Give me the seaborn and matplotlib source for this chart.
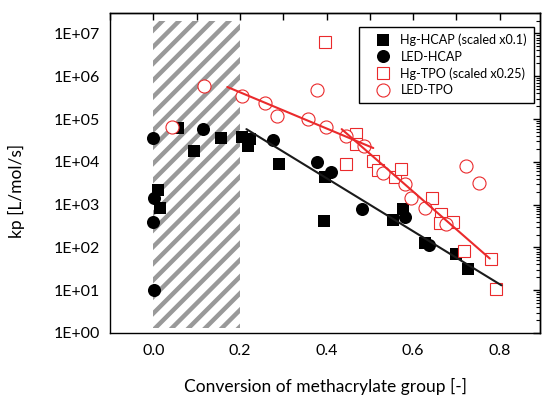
import numpy as np
import pandas as pd
import seaborn as sns
import matplotlib
matplotlib.use("Agg")
import matplotlib.pyplot as plt
from matplotlib.ticker import FuncFormatter, LogLocator, MultipleLocator, NullFormatter

# ---------------- data ----------------
hg_hcap_x = [0.058, 0.094, 0.156, 0.204, 0.223, 0.218, 0.010, 0.015, 0.290, 0.394,
             0.396, 0.576, 0.554, 0.627, 0.699, 0.727]
hg_hcap_y = [6.2e4, 1.8e4, 3.6e4, 3.9e4, 3.4e4, 2.4e4, 2.2e3, 8.2e2, 8.9e3, 4.1e2,
             4.5e3, 7.8e2, 4.35e2, 1.24e2, 7.0e1, 3.2e1]

led_hcap_x = [0.000, 0.115, 0.002, 0.000, 0.002, 0.276, 0.377, 0.410, 0.483, 0.581, 0.637]
led_hcap_y = [3.6e4, 5.8e4, 1.45e3, 3.85e2, 1.0e1, 3.2e4, 1.0e4, 5.7e3, 7.8e2, 5.05e2, 1.13e2]

hg_tpo_x = [0.396, 0.469, 0.468, 0.446, 0.508, 0.519, 0.558, 0.573, 0.643, 0.664,
            0.663, 0.692, 0.717, 0.779, 0.791]
hg_tpo_y = [6.3e6, 4.4e4, 2.6e4, 8.9e3, 1.07e4, 6.6e3, 4.5e3, 6.8e3, 1.4e3, 6.0e2,
            3.8e2, 4.0e2, 8.2e1, 5.3e1, 1.04e1]

led_tpo_x = [0.044, 0.118, 0.205, 0.258, 0.285, 0.377, 0.358, 0.398, 0.445, 0.487,
             0.531, 0.582, 0.594, 0.627, 0.675, 0.722, 0.752]
led_tpo_y = [6.5e4, 5.8e5, 3.4e5, 2.4e5, 1.2e5, 4.8e5, 1.0e5, 6.5e4, 4.1e4, 2.3e4,
             5.4e3, 3.0e3, 1.4e3, 8.2e2, 3.5e2, 8.0e3, 3.2e3]

# fitted trend lines (end points)
fit_hcap_x = [0.215, 0.804]
fit_hcap_y = [5.8e4, 1.3e1]
fit_tpo1_x = [0.171, 0.508]
fit_tpo1_y = [5.6e5, 2.1e4]
fit_tpo2_x = [0.435, 0.777]
fit_tpo2_y = [5.8e4, 5.5e1]

labels = ["Hg-HCAP (scaled x0.1)", "LED-HCAP", "Hg-TPO (scaled x0.25)", "LED-TPO"]
x_ticks = [0.0, 0.2, 0.4, 0.6, 0.8]
y_ticks = [1e0, 1e1, 1e2, 1e3, 1e4, 1e5, 1e6, 1e7]

# ---------------- style ----------------
sns.set_theme(style="white")
plt.rcParams["font.family"] = ["Lato", "DejaVu Sans"]
plt.rcParams["hatch.linewidth"] = 3.2
plt.rcParams["axes.edgecolor"] = "black"
plt.rcParams["axes.linewidth"] = 1.0
plt.rcParams["text.color"] = "black"
plt.rcParams["axes.labelcolor"] = "black"
plt.rcParams["xtick.color"] = "black"
plt.rcParams["ytick.color"] = "black"

RED = "#ea2a2c"

fig = plt.figure(figsize=(5.43, 3.96), dpi=100)
ax = fig.add_axes([110 / 543, 63 / 396, 430 / 543, 320 / 396])

# hatched region
ax.axvspan(0.0, 0.2, ymin=0.015, ymax=0.976, facecolor="white",
           edgecolor="#999999", hatch="//", linewidth=0, zorder=0)

def pts(x, y):
    return pd.DataFrame({"x": x, "y": y})

common = dict(estimator=None, sort=False, linestyle="", ax=ax)
sns.lineplot(data=pts(hg_hcap_x, hg_hcap_y), x="x", y="y", marker="s", markersize=8.6,
             color="black", markerfacecolor="black", markeredgecolor="black",
             markeredgewidth=0, label=labels[0], zorder=3, **common)
sns.lineplot(data=pts(led_hcap_x, led_hcap_y), x="x", y="y", marker="o", markersize=9.4,
             color="black", markerfacecolor="black", markeredgecolor="black",
             markeredgewidth=0, label=labels[1], zorder=3, **common)
sns.lineplot(data=pts(hg_tpo_x, hg_tpo_y), x="x", y="y", marker="s", markersize=8.2,
             color=RED, markerfacecolor="white", markeredgecolor=RED,
             markeredgewidth=0.8, label=labels[2], zorder=4, **common)
sns.lineplot(data=pts(led_tpo_x, led_tpo_y), x="x", y="y", marker="o", markersize=9.4,
             color=RED, markerfacecolor="white", markeredgecolor=RED,
             markeredgewidth=0.8, label=labels[3], zorder=4, **common)

for fx, fy, c in [(fit_hcap_x, fit_hcap_y, "#1a1a1a"),
                  (fit_tpo1_x, fit_tpo1_y, RED),
                  (fit_tpo2_x, fit_tpo2_y, RED)]:
    sns.lineplot(x=fx, y=fy, color=c, linewidth=1.5, estimator=None, sort=False,
                 ax=ax, zorder=5, legend=False)

ax.set_yscale("log")
ax.set_xlim(-0.1, 0.893)
ax.set_ylim(1, 3.0e7)

ax.set_xticks(x_ticks)
ax.set_xticklabels([f"{v:.1f}" for v in x_ticks])
ax.xaxis.set_minor_locator(MultipleLocator(0.1))
ax.set_yticks(y_ticks)
ax.yaxis.set_major_formatter(FuncFormatter(lambda v, p: f"1E+{int(round(np.log10(v))):02d}"))
ax.yaxis.set_minor_locator(LogLocator(base=10, subs=np.arange(2, 10)))
ax.yaxis.set_minor_formatter(NullFormatter())

ax.tick_params(which="major", direction="out", length=5, width=1, labelsize=11.5,
               colors="black", pad=2)
ax.tick_params(which="minor", direction="out", length=3, width=0.8)
ax.tick_params(axis="x", which="major", length=6)

# top / right axes with inward ticks
top = ax.secondary_xaxis("top")
top.set_xticks(x_ticks)
top.xaxis.set_minor_locator(MultipleLocator(0.1))
top.tick_params(which="both", direction="in", length=5, width=1, labeltop=False)
right = ax.secondary_yaxis("right")
right.set_yticks(y_ticks)
right.yaxis.set_minor_locator(LogLocator(base=10, subs=np.arange(2, 10)))
right.yaxis.set_minor_formatter(NullFormatter())
right.tick_params(which="major", direction="in", length=5, width=1, labelright=False)
right.tick_params(which="minor", direction="in", length=3, width=0.8, labelright=False)

for sp in ax.spines.values():
    sp.set_color("black")
    sp.set_linewidth(1.0)

ax.set_xlabel("Conversion of methacrylate group [-]", fontsize=12.5, color="black")
ax.set_ylabel("kp [L/mol/s]", fontsize=12.5, color="black")
ax.xaxis.set_label_coords(0.5, -0.14)
ax.yaxis.set_label_coords(-0.198, 0.444)

handles, labs = ax.get_legend_handles_labels()
leg = ax.legend(handles[:4], labs[:4], loc="upper right", bbox_to_anchor=(0.986, 0.957),
                borderaxespad=0, fancybox=False, edgecolor="black", framealpha=1,
                fontsize=9.1, handlelength=2.7, handletextpad=0.05, labelspacing=0.36,
                borderpad=0.55)
leg.get_frame().set_linewidth(1.0)

fig.savefig("out.png", dpi=100, facecolor="white")
